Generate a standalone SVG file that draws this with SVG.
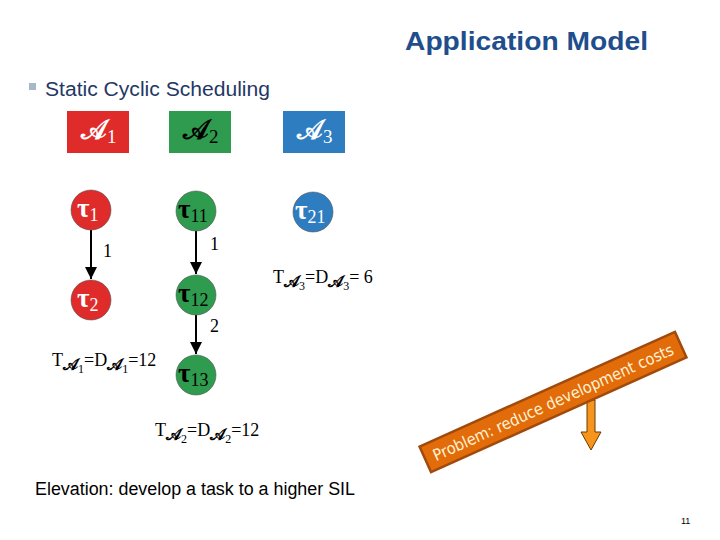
<svg xmlns="http://www.w3.org/2000/svg" width="720" height="540" viewBox="0 0 720 540">
<defs>
<style>
.title{font-family:"Liberation Sans",Arial,sans-serif;font-weight:bold;font-size:26px;fill:#1F4E8D}
.bul{font-family:"Liberation Sans",Arial,sans-serif;font-size:20px;fill:#1F3864}
.body{font-family:"Liberation Sans",Arial,sans-serif;font-size:18px;fill:#000}
.m{font-family:"Liberation Serif","DejaVu Serif",serif;fill:#000}
.tau{font-family:"Liberation Serif","DejaVu Serif",serif;font-weight:bold;font-size:27px}
.sub{font-size:18px;font-weight:normal}
.scr{font-family:"DejaVu Serif","Liberation Serif",serif;font-weight:bold}
.w{fill:#fff}
.k{fill:#000}
.red{fill:#E02B2B}
.green{fill:#2F9B4E}
.blue{fill:#2F7DC1}
circle{stroke:#555;stroke-width:0.6}
.edge{stroke:#000;stroke-width:2;fill:none}
.elab{font-family:"Liberation Serif",serif;font-size:18px;fill:#000}
</style>
<marker id="ah" viewBox="0 0 10 10" refX="10" refY="5" markerWidth="6" markerHeight="9" markerUnits="strokeWidth" orient="auto">
<path d="M0,0 L10,5 L0,10 z" fill="#000"/>
</marker>
</defs>
<rect width="720" height="540" fill="#fff"/>
<text class="title" x="405" y="50" textLength="243" lengthAdjust="spacingAndGlyphs">Application Model</text>
<rect x="29" y="83" width="7" height="7" fill="#A9B7CB"/>
<text class="bul" x="45" y="96" textLength="225" lengthAdjust="spacingAndGlyphs">Static Cyclic Scheduling</text>

<g id="A1"><rect class="red" x="67" y="111" width="62" height="42"/><text class="m w" x="81" y="139" font-size="19"><tspan class="scr" font-size="27">𝒜</tspan><tspan font-size="19" dy="4">1</tspan></text></g>
<g id="A2"><rect class="green" x="169" y="111" width="62" height="42"/><text class="m k" x="183" y="139" font-size="19"><tspan class="scr" font-size="27">𝒜</tspan><tspan font-size="19" dy="4">2</tspan></text></g>
<g id="A3"><rect class="blue" x="283" y="111" width="62" height="42"/><text class="m w" x="297" y="139" font-size="19"><tspan class="scr" font-size="27">𝒜</tspan><tspan font-size="19" dy="4">3</tspan></text></g>

<g id="edges">
<line class="edge" x1="91" y1="230" x2="91" y2="279" marker-end="url(#ah)"/>
<line class="edge" x1="196" y1="231" x2="196" y2="274" marker-end="url(#ah)"/>
<line class="edge" x1="196" y1="315" x2="196" y2="354" marker-end="url(#ah)"/>
<text class="elab" x="103" y="257">1</text>
<text class="elab" x="210" y="250">1</text>
<text class="elab" x="210" y="332">2</text>
</g>

<g id="t1"><circle class="red" cx="91" cy="210" r="20"/><text class="tau w" x="77" y="217">τ<tspan class="sub" dy="4">1</tspan></text></g>
<g id="t2"><circle class="red" cx="91" cy="300" r="20"/><text class="tau w" x="77" y="307">τ<tspan class="sub" dy="4">2</tspan></text></g>
<g id="t11"><circle class="green" cx="196" cy="211" r="20"/><text class="tau k" x="178" y="218">τ<tspan class="sub" dy="4">11</tspan></text></g>
<g id="t12"><circle class="green" cx="196" cy="295" r="20"/><text class="tau k" x="178" y="302">τ<tspan class="sub" dy="4">12</tspan></text></g>
<g id="t13"><circle class="green" cx="196" cy="375" r="20"/><text class="tau k" x="178" y="382">τ<tspan class="sub" dy="4">13</tspan></text></g>
<g id="t21"><circle class="blue" cx="313" cy="212" r="20"/><text class="tau w" x="295" y="219">τ<tspan class="sub" dy="4">21</tspan></text></g>

<g id="TA1"><text class="m" x="52" y="366" font-size="18">T<tspan class="scr" font-size="16" dy="4">𝒜</tspan><tspan font-size="12" dy="3">1</tspan><tspan dy="-7">=D</tspan><tspan class="scr" font-size="16" dy="4">𝒜</tspan><tspan font-size="12" dy="3">1</tspan><tspan dy="-7">=12</tspan></text></g>
<g id="TA2"><text class="m" x="155" y="436" font-size="18">T<tspan class="scr" font-size="16" dy="4">𝒜</tspan><tspan font-size="12" dy="3">2</tspan><tspan dy="-7">=D</tspan><tspan class="scr" font-size="16" dy="4">𝒜</tspan><tspan font-size="12" dy="3">2</tspan><tspan dy="-7">=12</tspan></text></g>
<g id="TA3"><text class="m" x="273" y="283" font-size="18">T<tspan class="scr" font-size="16" dy="4">𝒜</tspan><tspan font-size="12" dy="3">3</tspan><tspan dy="-7">=D</tspan><tspan class="scr" font-size="16" dy="4">𝒜</tspan><tspan font-size="12" dy="3">3</tspan><tspan dy="-7">= 6</tspan></text></g>

<g id="down-arrow"><path d="M587,400 L595,400 L595,432 L601,432 L591,450 L581,432 L587,432 Z" fill="#F7941D" stroke="#6B3A00" stroke-width="1"/></g>
<g id="banner" transform="translate(553,402) rotate(-24.2)">
<rect x="-140" y="-14" width="280" height="28" fill="#E36C0A" stroke="#A04A0C" stroke-width="2.5"/>
<text x="0" y="6" text-anchor="middle" font-family="'DejaVu Sans',sans-serif" font-size="16" fill="#FFF3D6" textLength="262" lengthAdjust="spacingAndGlyphs">Problem: reduce development costs</text>
</g>

<text class="body" x="35" y="495" textLength="320" lengthAdjust="spacingAndGlyphs">Elevation: develop a task to a higher SIL</text>
<text x="681" y="524" font-family="Liberation Sans,sans-serif" font-size="9" fill="#000">11</text>
</svg>
